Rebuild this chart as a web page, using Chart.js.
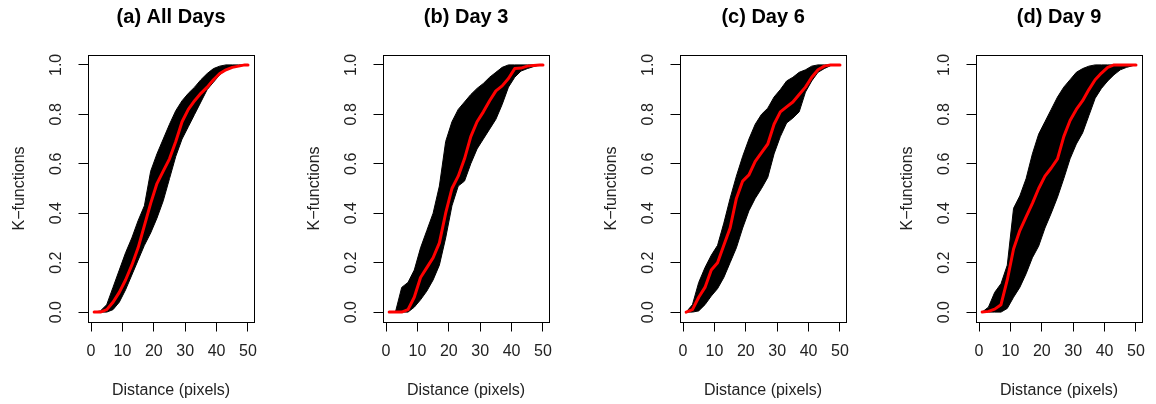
<!DOCTYPE html>
<html><head><meta charset="utf-8">
<style>
html,body{margin:0;padding:0;background:#fff;width:1156px;height:404px;overflow:hidden;}
canvas{position:absolute;top:0;}
</style>
<script src="https://cdn.jsdelivr.net/npm/chart.js@4.4.0/dist/chart.umd.min.js"></script>
</head><body>
<canvas id="c0" width="268" height="404" style="left:0px"></canvas>
<canvas id="c1" width="268" height="404" style="left:295px"></canvas>
<canvas id="c2" width="268" height="404" style="left:592px"></canvas>
<canvas id="c3" width="268" height="404" style="left:888px"></canvas>
<script>
// ---- data ----
const distance = [1,3,5,7,9,11,13,15,17,19,21,23,25,27,29,31,33,35,37,39,41,43,45,47,49,50];
const xTickValues = [0,10,20,30,40,50];
const yTickValues = [0,0.2,0.4,0.6,0.8,1.0];
const panelTitles = ['(a) All Days','(b) Day 3','(c) Day 6','(d) Day 9'];
const xAxisLabel = 'Distance (pixels)';
const yAxisLabel = 'K\u2212functions';

// (a) All Days
const allDaysObserved = [0,0,0.01,0.04,0.08,0.13,0.19,0.26,0.35,0.44,0.52,0.57,0.62,0.69,0.77,0.82,0.855,0.885,0.91,0.94,0.965,0.98,0.99,0.995,1,1];
const allDaysUpper    = [0,0.005,0.03,0.1,0.17,0.24,0.3,0.37,0.43,0.57,0.64,0.70,0.76,0.815,0.855,0.885,0.91,0.94,0.965,0.985,0.995,1,1,1,1,1];
const allDaysLower    = [0,0,0,0.01,0.04,0.09,0.15,0.21,0.27,0.32,0.38,0.45,0.54,0.63,0.70,0.75,0.80,0.85,0.90,0.93,0.96,0.98,0.99,0.995,1,1];
// (b) Day 3
const day3Observed = [0,0,0,0.01,0.06,0.14,0.18,0.22,0.28,0.40,0.50,0.55,0.62,0.71,0.77,0.81,0.855,0.895,0.915,0.945,0.985,0.987,0.995,0.998,1,1];
const day3Upper    = [0,0,0.10,0.12,0.17,0.26,0.33,0.40,0.51,0.69,0.77,0.82,0.85,0.88,0.905,0.925,0.95,0.97,0.99,1,1,1,1,1,1,1];
const day3Lower    = [0,0,0,0,0.02,0.05,0.085,0.13,0.19,0.30,0.43,0.51,0.53,0.60,0.66,0.70,0.74,0.78,0.84,0.91,0.95,0.975,0.985,0.993,1,1];
// (c) Day 6
const day6Observed = [0,0.01,0.06,0.1,0.17,0.2,0.27,0.34,0.46,0.53,0.555,0.61,0.645,0.68,0.76,0.81,0.83,0.85,0.88,0.91,0.95,0.98,0.995,1,1,1];
const day6Upper    = [0,0.03,0.12,0.18,0.23,0.27,0.36,0.46,0.55,0.63,0.70,0.76,0.80,0.825,0.87,0.90,0.935,0.95,0.97,0.98,0.995,1,1,1,1,1];
const day6Lower    = [0,0,0.005,0.03,0.065,0.095,0.14,0.2,0.26,0.34,0.41,0.46,0.50,0.545,0.64,0.71,0.765,0.785,0.81,0.89,0.935,0.97,0.985,0.997,1,1];
// (d) Day 9
const day9Observed = [0,0.003,0.012,0.03,0.13,0.255,0.33,0.385,0.44,0.50,0.55,0.583,0.62,0.71,0.775,0.82,0.855,0.90,0.94,0.967,0.99,1,1,1,1,1];
const day9Upper    = [0,0.02,0.08,0.115,0.19,0.42,0.47,0.54,0.64,0.72,0.77,0.82,0.87,0.91,0.94,0.97,0.985,0.995,1,1,1,1,1,1,1,1];
const day9Lower    = [0,0,0,0,0.015,0.06,0.10,0.155,0.22,0.267,0.34,0.40,0.465,0.54,0.62,0.68,0.725,0.795,0.865,0.905,0.935,0.96,0.98,0.99,0.997,1];

const panels = [
  [allDaysObserved, allDaysUpper, allDaysLower],
  [day3Observed, day3Upper, day3Lower],
  [day6Observed, day6Upper, day6Lower],
  [day9Observed, day9Upper, day9Lower]
];

const FONT = "'Liberation Sans', Arial, Helvetica, sans-serif";
const TXT = '#222';

const frame = {
  id: 'frame',
  afterDatasetsDraw(chart) {
    const {ctx, chartArea: a} = chart;
    ctx.save();
    ctx.strokeStyle = '#000';
    ctx.lineWidth = 1;
    ctx.strokeRect(Math.round(a.left) + 0.5, Math.round(a.top) + 0.5,
                   Math.round(a.right - a.left), Math.round(a.bottom - a.top));
    ctx.restore();
  }
};

const pts = arr => distance.map((x, i) => ({x: x, y: arr[i]}));

const axisCommon = {
  grid: {display: true, drawOnChartArea: false, drawTicks: true, tickLength: 9.5, color: '#000', lineWidth: 1},
  border: {display: true, color: '#000', width: 1}
};

panels.forEach((p, i) => {
  new Chart(document.getElementById('c' + i), {
    type: 'line',
    data: {
      datasets: [
        {label: 'observed', data: pts(p[0]), borderColor: '#ff0000', borderWidth: 3,
         borderCapStyle: 'round', borderJoinStyle: 'round', pointRadius: 0, fill: false},
        {label: 'upper', data: pts(p[1]), borderColor: '#000', backgroundColor: '#000',
         borderWidth: 1, pointRadius: 0, fill: '+1'},
        {label: 'lower', data: pts(p[2]), borderColor: '#000', borderWidth: 1, pointRadius: 0, fill: false}
      ]
    },
    options: {
      responsive: false,
      animation: false,
      devicePixelRatio: 1,
      layout: {padding: {top: 0, left: 0, right: 5, bottom: 0}},
      plugins: {
        legend: {display: false},
        tooltip: {enabled: false},
        title: {
          display: true, text: panelTitles[i], fullSize: false, color: '#000',
          font: {family: FONT, size: 20, weight: 'bold'},
          padding: {top: 5.5, bottom: 25.5}
        }
      },
      scales: {
        x: Object.assign({}, axisCommon, {
          type: 'linear', min: -0.96, max: 51.96,
          afterBuildTicks: s => { s.ticks = xTickValues.map(v => ({value: v})); },
          afterFit: s => { s.height = 82; },
          ticks: {color: TXT, font: {family: FONT, size: 16}, padding: 10.6,
                  minRotation: 0, maxRotation: 0, autoSkip: false, callback: v => String(v)},
          title: {display: true, text: xAxisLabel, color: TXT,
                  font: {family: FONT, size: 16}, padding: {top: 0, bottom: 3.7}}
        }),
        y: Object.assign({}, axisCommon, {
          type: 'linear', min: -0.04, max: 1.04,
          afterBuildTicks: s => { s.ticks = yTickValues.map(v => ({value: v})); },
          afterFit: s => { s.width = 88; },
          ticks: {color: TXT, font: {family: FONT, size: 16}, padding: 10.7,
                  minRotation: 90, maxRotation: 90, crossAlign: 'center', autoSkip: false,
                  callback: v => Number(v).toFixed(1)},
          title: {display: true, text: yAxisLabel, color: TXT,
                  font: {family: FONT, size: 16}, padding: {top: 10.4, bottom: 0}}
        })
      }
    },
    plugins: [frame]
  });
});
</script>
</body></html>
